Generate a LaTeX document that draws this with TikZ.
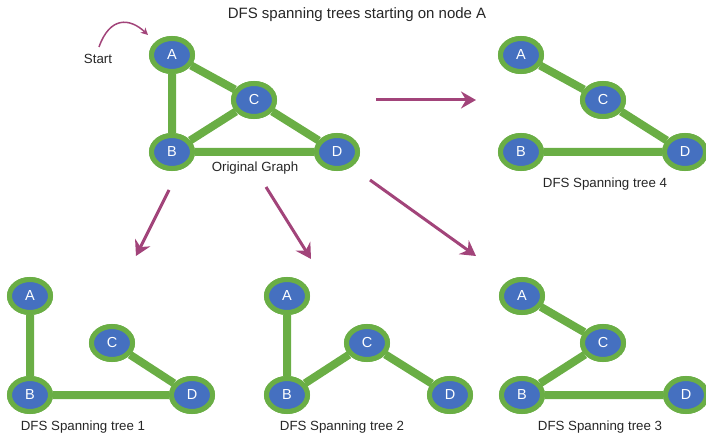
\documentclass[tikz,border=0pt]{standalone}
\usepackage{fontspec}
\setmainfont{Liberation Sans}
\usetikzlibrary{shapes.geometric,arrows.meta}
\definecolor{vblue}{HTML}{4570C0}
\definecolor{vgreen}{HTML}{6AAE45}
\definecolor{plum}{HTML}{A2447A}
\tikzset{
  vertex/.style={ellipse, draw=vgreen, fill=vblue, line width=5pt,
    minimum width=41pt, minimum height=33pt, inner sep=0pt,
    text=white, font=\fontsize{14.5}{15}\selectfont},
  treeedge/.style={draw=vgreen, line width=8pt},
  caption/.style={font=\fontsize{13.3}{14}\selectfont, text=black!85},
  flow/.style={draw=plum, line width=3pt,
    -{Stealth[length=15pt,width=17pt,inset=5pt]}},
}
\begin{document}
\begin{tikzpicture}[x=1pt,y=-1pt]
\useasboundingbox (0,0) rectangle (706,435);

\node[font=\fontsize{15}{16}\selectfont, text=black!85] (title) at (357,15) {DFS spanning trees starting on node A};

% original graph
\node[vertex] (A0) at (172,55) {A};
\node[vertex] (C0) at (254,100) {C};
\node[vertex] (B0) at (172,152) {B};
\node[vertex] (D0) at (337,152) {D};
\node[caption] (g0) at (255,168) {Original Graph};

% start marker
\node[caption] (start) at (98,59) {Start};
\coordinate (s0) at (99,47);
\coordinate (s1) at (148,35);
\draw[plum, line width=1.5pt, -{Stealth[length=7pt,width=7pt,inset=2pt]}]
  (s0) .. controls (110,16) and (130,18) .. (s1);

% tree 4
\node[vertex] (A4) at (521,55) {A};
\node[vertex] (C4) at (603,100) {C};
\node[vertex] (B4) at (521,152) {B};
\node[vertex] (D4) at (685,152) {D};
\node[caption] (g4) at (605,184) {DFS Spanning tree 4};

% tree 1
\node[vertex] (A1) at (30,296) {A};
\node[vertex] (C1) at (112,343) {C};
\node[vertex] (B1) at (30,395) {B};
\node[vertex] (D1) at (192,395) {D};
\node[caption] (g1) at (83,427) {DFS Spanning tree 1};

% tree 2
\node[vertex] (A2) at (287,296) {A};
\node[vertex] (C2) at (367,343) {C};
\node[vertex] (B2) at (287,395) {B};
\node[vertex] (D2) at (450,395) {D};
\node[caption] (g2) at (342,427) {DFS Spanning tree 2};

% tree 3
\node[vertex] (A3) at (522,296) {A};
\node[vertex] (C3) at (603,343) {C};
\node[vertex] (B3) at (522,395) {B};
\node[vertex] (D3) at (686,395) {D};
\node[caption] (g3) at (600,427) {DFS Spanning tree 3};

% edges
\path[treeedge] (A0) -- (B0) (A0) -- (C0) (B0) -- (C0) (C0) -- (D0) (B0) -- (D0);
\path[treeedge] (A4) -- (C4) (C4) -- (D4) (B4) -- (D4);
\path[treeedge] (A1) -- (B1) (B1) -- (D1) (C1) -- (D1);
\path[treeedge] (A2) -- (B2) (B2) -- (C2) (C2) -- (D2);
\path[treeedge] (A3) -- (C3) (C3) -- (B3) (B3) -- (D3);

% redraw vertices on top of edge ends
\foreach \t in {0,1,2,3,4}{
  \foreach \v in {A,B,C,D}{
    \path (\v\t.center) node[vertex] {\v};
  }
}

% arrows to the trees
\coordinate (r0) at (376,100);
\coordinate (r1) at (476,100);
\draw[flow] (r0) -- (r1);
\coordinate (l0) at (169,190);
\coordinate (l1) at (136,256);
\draw[flow] (l0) -- (l1);
\coordinate (m0) at (266,187);
\coordinate (m1) at (311,259);
\draw[flow] (m0) -- (m1);
\coordinate (n0) at (370,180);
\coordinate (n1) at (476,256);
\draw[flow] (n0) -- (n1);
\end{tikzpicture}
\end{document}
